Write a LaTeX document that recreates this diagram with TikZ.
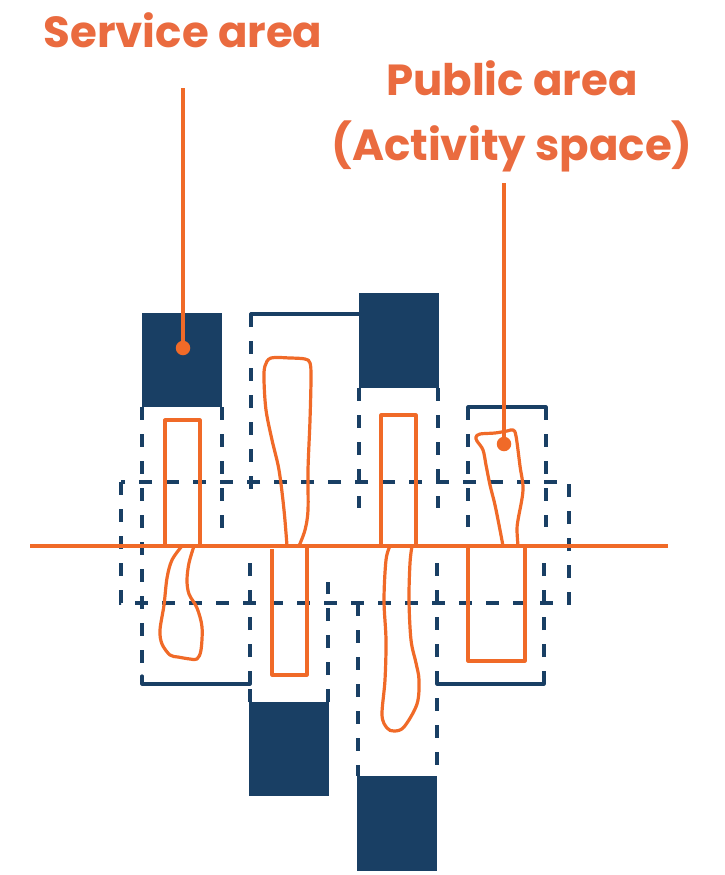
\documentclass[tikz,border=0pt]{standalone}
\usepackage{fontspec}
\newfontfamily\labelfont{Poppins}
\definecolor{navy}{HTML}{193F64}
\definecolor{orng}{HTML}{F06A28}
\definecolor{txtor}{HTML}{EA6B3F}
\begin{document}
\begin{tikzpicture}[x=1pt,y=-1pt,
  dline/.style={navy,line width=3.2pt,dash pattern=on 13pt off 14pt},
  sline/.style={navy,line width=3.2pt,line cap=round,line join=round},
  oline/.style={orng,line width=3.2pt,line join=round},
  blk/.style={fill=navy},
  lbl/.style={txtor,font=\labelfont\bfseries\fontsize{43.5}{48}\selectfont,inner sep=0pt,anchor=base},
  dot/.style={circle,fill=orng,minimum size=14.5pt,inner sep=0pt}]
\useasboundingbox (0,0) rectangle (725,875);
% service blocks
\fill[blk] (142,313) rectangle (222,407);
\fill[blk] (359,293) rectangle (439,388);
\fill[blk] (249,702) rectangle (329,796);
\fill[blk] (357,776) rectangle (437,871);
% central dashed corridor
\draw[dline] (121,482) rectangle (569,603);
% dashed verticals
\draw[dline] (142,407) -- (142,684);
\draw[dline] (222,407) -- (222,530);
\draw[dline] (250,684) -- (250,563);
\draw[dline] (250,702) -- (250,684);
\draw[dline] (251,314) -- (251,490);
\draw[dline] (328,702) -- (328,582);
\draw[dline] (359,388) -- (359,508);
\draw[dline] (438,388) -- (438,508);
\draw[dline] (358,603) -- (358,776);
\draw[dline] (437,563) -- (437,776);
\draw[dline] (468,407) -- (468,527);
\draw[dline] (546,407) -- (546,527);
\draw[dline] (544,684) -- (544,562);
% solid edges
\draw[sline] (142,676) -- (142,684) -- (250,684) -- (250,676);
\draw[sline] (251,322) -- (251,314) -- (359,314);
\draw[sline] (468,415) -- (468,407) -- (546,407) -- (546,415);
\draw[sline] (437,676) -- (437,684) -- (544,684) -- (544,676);
% orange main line
\draw[oline] (30,546) -- (668,546);
% orange rectangles
\draw[oline] (165,546) -- (165,420) -- (200,420) -- (200,546);
\draw[oline] (272,549) -- (272,675) -- (307,675) -- (307,546);
\draw[oline] (381,546) -- (381,415) -- (416,415) -- (416,546);
\draw[oline] (468,546) -- (468,661) -- (525,661) -- (525,546);
% orange blobs
\draw[oline] plot[smooth,tension=0.55] coordinates {(287,546) (284,510) (279,470) (272,440) (266,410) (264,380) (265,366) (271,358) (290,358) (305,359) (310,363) (311,378) (310,420) (308,470) (308,510) (305,530) (299,546)};
\draw[oline] plot[smooth,tension=0.55] coordinates {(182,546) (172,560) (167,578) (164,605) (160,630) (162,644) (170,655) (178,657) (190,659) (197,659) (201,650) (202,627) (197,608) (189,594) (187,580) (189,563) (194,546)};
\draw[oline] plot[smooth,tension=0.55] coordinates {(390,546) (386,560) (384,600) (386,640) (385,680) (382,715) (387,728) (394,731) (404,727) (417,704) (419,680) (416,663) (411,640) (409,600) (410,563) (412,546)};
\draw[oline] plot[smooth,tension=0.55] coordinates {(503,546) (500,530) (495,505) (490,485) (486,465) (483,450) (477,441) (476,437) (480,434) (495,433) (507,431) (513,430) (516,436) (520,466) (523,490) (518,520) (517,530) (518,546)};
% labels and pointers
\node[lbl] (service) at (183,48) {Service area};
\node[lbl] (public) at (512,95) {Public area};
\node[lbl] (activity) at (512,160) {(Activity space)};
\coordinate (sp) at (183,88);
\coordinate (pp) at (504,183);
\node[dot] (sd) at (183,348) {};
\node[dot] (pd) at (504,444) {};
\draw[oline] (sp) -- (sd.center);
\draw[oline] (pp) -- (pd.center);
\end{tikzpicture}
\end{document}
